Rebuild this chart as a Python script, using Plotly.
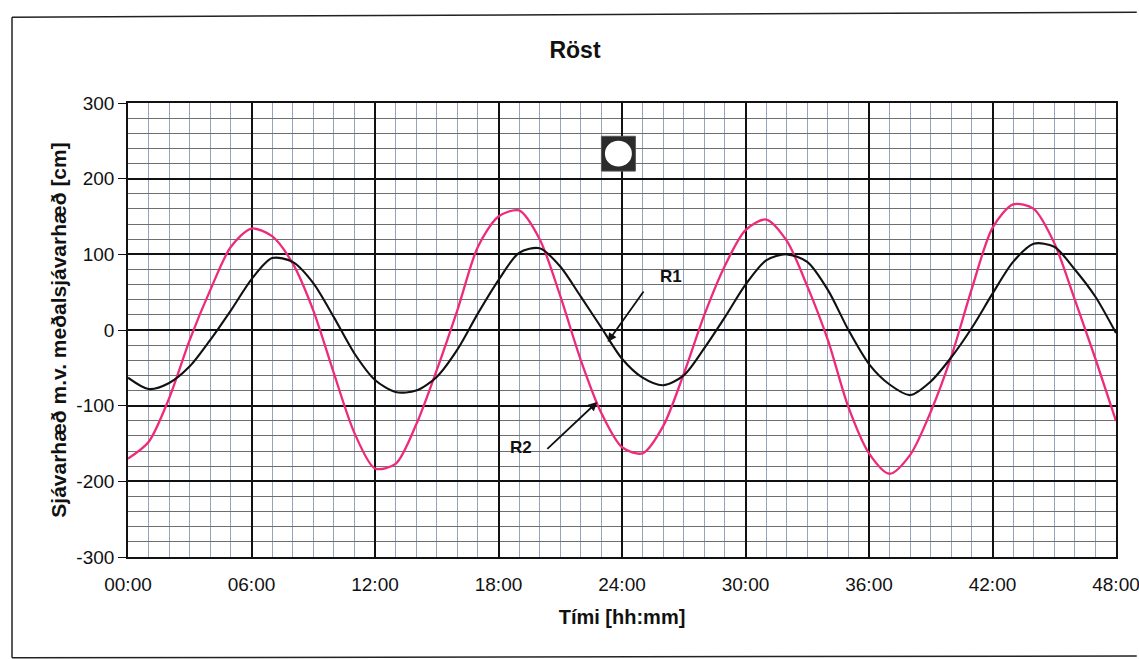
import plotly.graph_objects as go

# Time axis in hours from start of record
hours = list(range(0, 49))

# Sea level relative to mean sea level [cm]
r1_level = [-63, -78, -70, -48, -13, 26, 67, 95, 90, 62, 17, -31, -66,
            -82, -80, -62, -26, 22, 66, 102, 108, 84, 44, 3, -38,
            -63, -73, -60, -24, 17, 60, 92, 100, 90, 53, 0, -45,
            -72, -86, -68, -36, 3, 48, 90, 114, 110, 80, 44, -4]
r2_level = [-170, -148, -90, -13, 53, 110, 134, 124, 88, 26, -57, -136, -183,
            -177, -125, -53, 26, 110, 150, 158, 120, 45, -40, -110, -155,
            -163, -127, -58, 20, 85, 132, 146, 118, 58, -13, -102, -163,
            -190, -165, -108, -35, 55, 135, 166, 160, 115, 40, -38, -120]

x_tickvals = [0, 6, 12, 18, 24, 30, 36, 42, 48]
x_ticktext = ["00:00", "06:00", "12:00", "18:00", "24:00", "30:00", "36:00", "42:00", "48:00"]
y_tickvals = [300, 200, 100, 0, -100, -200, -300]
y_ticktext = ["300", "200", "100", "0", "-100", "-200", "-300"]

FONT = "Liberation Sans, Arial, sans-serif"
PINK = "#ee2a7b"
INK = "#111111"

fig = go.Figure()

fig.add_trace(go.Scatter(x=hours, y=r2_level, mode="lines", name="R2",
                         line=dict(color=PINK, width=2.3, shape="spline", smoothing=0.8)))
fig.add_trace(go.Scatter(x=hours, y=r1_level, mode="lines", name="R1",
                         line=dict(color=INK, width=2.1, shape="spline", smoothing=0.8)))

# Station symbol: dark square with white disc
fig.add_shape(type="rect", xref="x", yref="y", x0=23.0, x1=24.65, y0=210, y1=256,
              fillcolor="#2b2b2b", line=dict(color="#555555", width=1))
fig.add_shape(type="circle", xref="x", yref="y", x0=23.17, x1=24.48, y0=216, y1=250,
              fillcolor="white", line=dict(color="white", width=0))

# Outer frame of the figure
frame = dict(color="#222222", width=1.5)
fig.add_shape(type="line", xref="paper", yref="paper", x0=-0.1174, x1=1.021, y0=1.189, y1=1.200, line=frame)
fig.add_shape(type="line", xref="paper", yref="paper", x0=-0.1174, x1=-0.1174, y0=1.189, y1=-0.222, line=frame)
fig.add_shape(type="line", xref="paper", yref="paper", x0=-0.1174, x1=1.021, y0=-0.222, y1=-0.218, line=frame)

# Curve labels with arrows
fig.add_annotation(x=23.3, y=-16, ax=25.1, ay=53, axref="x", ayref="y", xref="x", yref="y",
                   showarrow=True, arrowhead=2, arrowsize=1, arrowwidth=1.8, arrowcolor=INK, text="")
fig.add_annotation(x=26.4, y=71, xref="x", yref="y", text="<b>R1</b>", showarrow=False,
                   font=dict(family=FONT, size=17, color=INK))
fig.add_annotation(x=22.8, y=-95, ax=20.3, ay=-159, axref="x", ayref="y", xref="x", yref="y",
                   showarrow=True, arrowhead=2, arrowsize=1, arrowwidth=1.8, arrowcolor=INK, text="")
fig.add_annotation(x=19.1, y=-155, xref="x", yref="y", text="<b>R2</b>", showarrow=False,
                   font=dict(family=FONT, size=17, color=INK))

fig.update_layout(
    width=1139, height=659,
    margin=dict(l=128, r=23, t=103, b=102),
    paper_bgcolor="white", plot_bgcolor="white",
    showlegend=False,
    font=dict(family=FONT, color=INK),
    title=dict(text="<b>Röst</b>", x=575 / 1139, xanchor="center", y=1 - 50 / 659, yanchor="middle",
               font=dict(family=FONT, size=23, color=INK)),
    xaxis=dict(
        range=[0, 48], tickvals=x_tickvals, ticktext=x_ticktext, automargin=False,
        ticklabeloverflow="allow",
        showline=True, mirror=True, linecolor=INK, linewidth=1.6,
        showgrid=True, gridcolor=INK, gridwidth=1.6,
        minor=dict(dtick=1, showgrid=True, gridcolor="#97a3bd", gridwidth=1),
        ticks="", tickfont=dict(family=FONT, size=19, color=INK),
        ticklabelstandoff=9,
        title=dict(text="<b>Tími [hh:mm]</b>", font=dict(family=FONT, size=20, color=INK), standoff=16),
        zeroline=False,
    ),
    yaxis=dict(
        range=[-300, 300], tickvals=y_tickvals, ticktext=y_ticktext, automargin=False,
        showline=True, mirror=True, linecolor=INK, linewidth=1.6,
        showgrid=True, gridcolor=INK, gridwidth=1.6,
        minor=dict(dtick=20, showgrid=True, gridcolor="#6f6f6f", gridwidth=1),
        ticks="outside", ticklen=8, tickcolor=INK, tickwidth=1.3,
        tickfont=dict(family=FONT, size=19, color=INK),
        title=dict(text="<b>Sjávarhæð m.v. meðalsjávarhæð [cm]</b>",
                   font=dict(family=FONT, size=21, color=INK), standoff=4),
        zeroline=False,
    ),
)

fig.write_html("out.html")
